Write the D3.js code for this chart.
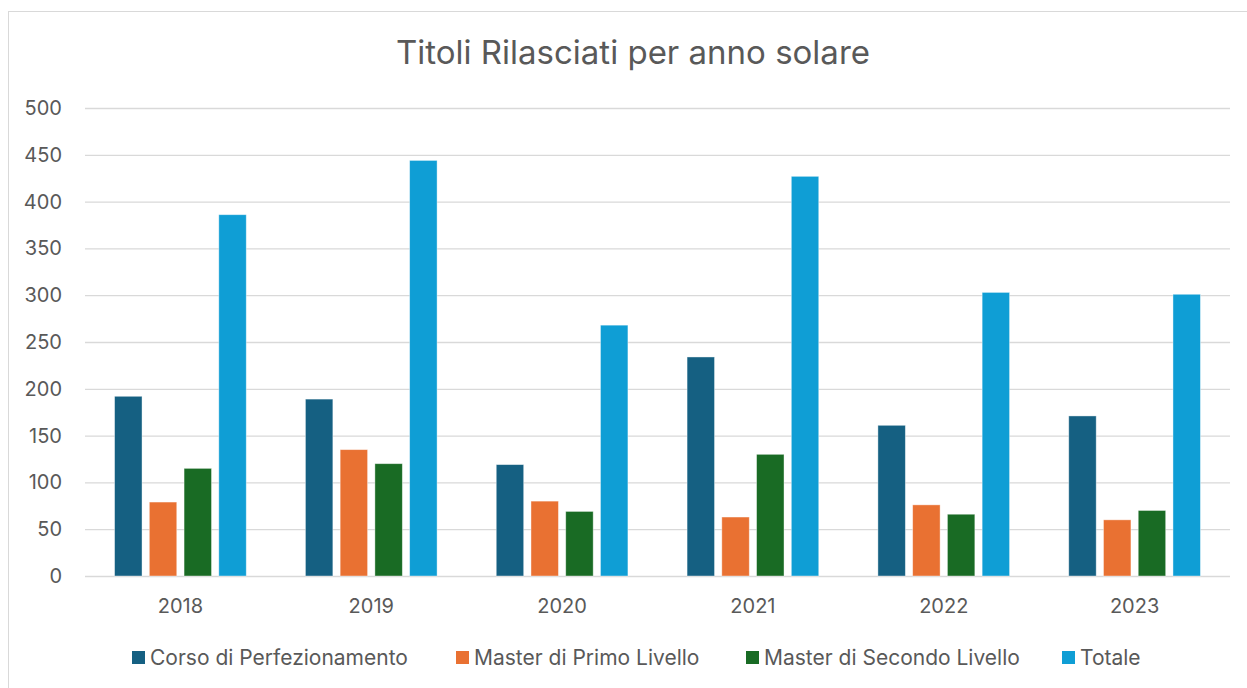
<!DOCTYPE html>
<html>
<head>
<meta charset="utf-8">
<script src="https://cdn.jsdelivr.net/npm/d3@7"></script>
<style>
  body { margin: 0; background: #fff; }
  svg { display: block; font-family: Inter, "Open Sans", sans-serif; }
</style>
</head>
<body>
<div id="chart"></div>
<script>
var years = ["2018", "2019", "2020", "2021", "2022", "2023"];
var seriesNames = ["Corso di Perfezionamento", "Master di Primo Livello", "Master di Secondo Livello", "Totale"];
var corso = [192, 189, 119, 234, 161, 171];
var primo = [79, 135, 80, 63, 76, 60];
var secondo = [115, 120, 69, 130, 66, 70];
var totale = [386, 444, 268, 427, 303, 301];
var yTicks = [0, 50, 100, 150, 200, 250, 300, 350, 400, 450, 500];
var colors = ["#156082", "#E97132", "#196B24", "#0F9ED5"];

var W = 1247, H = 688;
var plotLeft = 85, plotRight = 1230, plotTop = 108, plotBottom = 576;

var svg = d3.select("#chart").append("svg")
  .attr("width", W).attr("height", H);

// chart frame (runs off the right and bottom edge)
svg.append("rect")
  .attr("x", 8.5).attr("y", 11.5)
  .attr("width", 1260).attr("height", 700)
  .attr("fill", "#fff").attr("stroke", "#d9d9d9");

svg.append("text")
  .attr("x", 633).attr("y", 64)
  .attr("text-anchor", "middle")
  .style("font-size", "33px")
  .style("fill", "#595959")
  .text("Titoli Rilasciati per anno solare");

var y = d3.scaleLinear().domain([0, 500]).range([plotBottom, plotTop]);
var x0 = d3.scaleBand().domain(years).range([plotLeft, plotRight])
  .paddingInner(0.31).paddingOuter(0.155);
var x1 = d3.scaleBand().domain(d3.range(4)).range([0, x0.bandwidth()])
  .paddingInner(0.21).paddingOuter(0);

// grid
svg.append("g")
  .attr("transform", "translate(" + plotLeft + ",0)")
  .call(d3.axisLeft(y).tickValues(yTicks).tickSize(-(plotRight - plotLeft)).tickFormat(""))
  .call(function(g) {
    g.select(".domain").remove();
    g.selectAll("line").attr("stroke", "#d9d9d9").attr("stroke-width", 1.3);
  });

// y labels
svg.selectAll("text.ylab")
  .data(yTicks)
  .enter()
  .append("text")
  .attr("class", "ylab")
  .attr("x", 62)
  .attr("y", function(d) { return y(d); })
  .attr("dy", "0.35em")
  .attr("text-anchor", "end")
  .style("font-size", "20px")
  .style("fill", "#595959")
  .text(function(d) { return d; });

var allSeries = [corso, primo, secondo, totale];

var groups = svg.selectAll("g.year")
  .data(years)
  .enter()
  .append("g")
  .attr("class", "year")
  .attr("transform", function(d) { return "translate(" + x0(d) + ",0)"; });

groups.selectAll("rect")
  .data(function(d, i) { return allSeries.map(function(s, k) { return {k: k, v: s[i]}; }); })
  .enter()
  .append("rect")
  .attr("x", function(d) { return x1(d.k); })
  .attr("width", x1.bandwidth())
  .attr("y", function(d) { return y(d.v); })
  .attr("height", function(d) { return plotBottom - y(d.v); })
  .attr("fill", function(d) { return colors[d.k]; })
  .attr("stroke", "rgba(255,255,255,0.5)")
  .attr("stroke-width", 0.8);

// x labels
svg.selectAll("text.xlab")
  .data(years)
  .enter()
  .append("text")
  .attr("class", "xlab")
  .attr("x", function(d) { return x0(d) + x0.bandwidth() / 2; })
  .attr("y", 613)
  .attr("text-anchor", "middle")
  .style("font-size", "20px")
  .style("fill", "#595959")
  .text(function(d) { return d; });

// legend
var legendX = [132, 456, 746, 1062];
var legend = svg.selectAll("g.leg")
  .data(seriesNames)
  .enter()
  .append("g")
  .attr("class", "leg")
  .attr("transform", function(d, i) { return "translate(" + legendX[i] + ",651)"; });
legend.append("rect")
  .attr("width", 13).attr("height", 13)
  .attr("fill", function(d, i) { return colors[i]; });
legend.append("text")
  .attr("x", 18).attr("y", 14)
  .style("font-size", "21px")
  .style("fill", "#595959")
  .text(function(d) { return d; });
</script>
</body>
</html>
